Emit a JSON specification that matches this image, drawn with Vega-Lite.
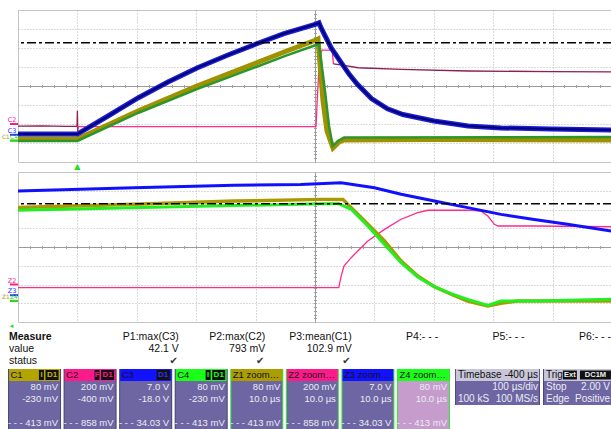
{
"$schema": "https://vega.github.io/schema/vega-lite/v6.json",
"background": "#ffffff",
"padding": {"left": 1, "top": 9, "right": 0, "bottom": 0},
"bounds": "flush",
"spacing": 10,
"resolve": {"scale": {"color": "independent", "fill": "independent"}},
"config": {
  "view": {"stroke": "#c4c4c4", "strokeWidth": 1},
  "text": {"font": "Liberation Sans"},
  "axis": {"labels": false, "ticks": false, "domain": false, "grid": false, "title": null}
},
"datasets": {
  "chtop": [{"ch":"C2","off":-2},{"ch":"C3","off":-2.57},{"ch":"C1","off":-2.875},{"ch":"C4","off":-2.875}],
  "chbot": [{"ch":"Z2","off":-2},{"ch":"Z3","off":-2.57},{"ch":"Z1","off":-2.875},{"ch":"Z4","off":-2.875}],
  "top": [
    {"trace":"C2","seg":"pre","t":-100,"v":-2.11},{"trace":"C2","seg":"pre","t":-60,"v":-2.1},{"trace":"C2","seg":"pre","t":-20,"v":-2.12},{"trace":"C2","seg":"pre","t":-0.6,"v":-2.11},{"trace":"C2","seg":"pre","t":0,"v":-1.3},{"trace":"C2","seg":"pre","t":0.6,"v":-2.4},{"trace":"C2","seg":"pre","t":1.2,"v":-2.11},
    {"trace":"C2","seg":"live","t":0,"v":-2.14},{"trace":"C2","seg":"live","t":200,"v":-2.14},{"trace":"C2","seg":"live","t":401.7,"v":-2.14},{"trace":"C2","seg":"live","t":403.4,"v":-1.0},{"trace":"C2","seg":"live","t":406,"v":0.6},{"trace":"C2","seg":"live","t":410.1,"v":1.74},{"trace":"C2","seg":"live","t":412,"v":1.89},{"trace":"C2","seg":"live","t":428.6,"v":1.89},{"trace":"C2","seg":"live","t":429.5,"v":1.7},{"trace":"C2","seg":"live","t":431,"v":1.16},
    {"trace":"C2","seg":"post","t":431,"v":1.16},{"trace":"C2","seg":"post","t":443.8,"v":1.11},{"trace":"C2","seg":"post","t":472.4,"v":0.96},{"trace":"C2","seg":"post","t":544.8,"v":0.88},{"trace":"C2","seg":"post","t":657.6,"v":0.79},{"trace":"C2","seg":"post","t":797,"v":0.76},{"trace":"C2","seg":"post","t":900,"v":0.74},
    {"trace":"C1","t":-100,"v":-2.79},{"trace":"C1","t":0,"v":-2.79},{"trace":"C1","t":102,"v":-1.32},{"trace":"C1","t":201.3,"v":0},{"trace":"C1","t":300.7,"v":1.21},{"trace":"C1","t":351.2,"v":1.83},{"trace":"C1","t":401.7,"v":2.42},{"trace":"C1","t":405,"v":2.47},{"trace":"C1","t":413.5,"v":-0.79},{"trace":"C1","t":420.2,"v":-2.37},{"trace":"C1","t":430.3,"v":-3.26},{"trace":"C1","t":440.4,"v":-2.95},{"trace":"C1","t":448.8,"v":-2.84},{"trace":"C1","t":600,"v":-2.82},{"trace":"C1","t":900,"v":-2.84},
    {"trace":"C4","t":-100,"v":-2.89},{"trace":"C4","t":0,"v":-2.89},{"trace":"C4","t":102,"v":-1.42},{"trace":"C4","t":201.3,"v":-0.16},{"trace":"C4","t":300.7,"v":1.0},{"trace":"C4","t":351.2,"v":1.6},{"trace":"C4","t":401.7,"v":2.16},{"trace":"C4","t":406.7,"v":2.21},{"trace":"C4","t":416.8,"v":-0.26},{"trace":"C4","t":423.6,"v":-2.1},{"trace":"C4","t":429.8,"v":-3.16},{"trace":"C4","t":438.7,"v":-2.89},{"trace":"C4","t":448.8,"v":-2.71},{"trace":"C4","t":900,"v":-2.68},
    {"trace":"C3","t":-100,"v":-2.53},{"trace":"C3","t":0,"v":-2.53},{"trace":"C3","t":51.5,"v":-1.58},{"trace":"C3","t":102,"v":-0.63},{"trace":"C3","t":152.5,"v":0.21},{"trace":"C3","t":201.3,"v":0.95},{"trace":"C3","t":253.5,"v":1.63},{"trace":"C3","t":300.7,"v":2.21},{"trace":"C3","t":347.8,"v":2.76},{"trace":"C3","t":401.7,"v":3.26},{"trace":"C3","t":406.7,"v":3.33},{"trace":"C3","t":410.1,"v":3.07},{"trace":"C3","t":415.7,"v":2.72},{"trace":"C3","t":427,"v":2.02},{"trace":"C3","t":443.8,"v":1.24},{"trace":"C3","t":458,"v":0.6},{"trace":"C3","t":471,"v":0.1},{"trace":"C3","t":495,"v":-0.66},{"trace":"C3","t":522,"v":-1.2},{"trace":"C3","t":548,"v":-1.5},{"trace":"C3","t":600.3,"v":-1.84},{"trace":"C3","t":657.6,"v":-2.11},{"trace":"C3","t":713.1,"v":-2.21},{"trace":"C3","t":797.3,"v":-2.26},{"trace":"C3","t":900,"v":-2.32}
  ],
  "zoom": [
    {"trace":"Z2","t":350,"v":-2.17},{"trace":"Z2","t":404,"v":-2.17},{"trace":"Z2","t":404.4,"v":-1.55},{"trace":"Z2","t":404.9,"v":-1.01},{"trace":"Z2","t":406.1,"v":-0.57},{"trace":"Z2","t":407.2,"v":-0.21},{"trace":"Z2","t":408.9,"v":0.32},{"trace":"Z2","t":411.7,"v":0.94},{"trace":"Z2","t":414.5,"v":1.48},{"trace":"Z2","t":417.3,"v":1.83},{"trace":"Z2","t":419,"v":1.96},{"trace":"Z2","t":425.8,"v":1.97},{"trace":"Z2","t":427.9,"v":1.92},{"trace":"Z2","t":429.1,"v":1.65},{"trace":"Z2","t":430.2,"v":1.21},{"trace":"Z2","t":430.8,"v":1.12},{"trace":"Z2","t":436.9,"v":1.12},{"trace":"Z2","t":450,"v":1.08},
    {"trace":"Z3","t":350,"v":2.99},{"trace":"Z3","t":369.5,"v":3.16},{"trace":"Z3","t":386.4,"v":3.29},{"trace":"Z3","t":397.6,"v":3.33},{"trace":"Z3","t":404.4,"v":3.42},{"trace":"Z3","t":410,"v":3.16},{"trace":"Z3","t":414.5,"v":2.81},{"trace":"Z3","t":420.1,"v":2.45},{"trace":"Z3","t":425.7,"v":2.1},{"trace":"Z3","t":431.3,"v":1.74},{"trace":"Z3","t":436.9,"v":1.47},{"trace":"Z3","t":442.5,"v":1.21},{"trace":"Z3","t":450,"v":0.85},
    {"trace":"Z1","t":350,"v":2.1},{"trace":"Z1","t":369.5,"v":2.28},{"trace":"Z1","t":386.4,"v":2.45},{"trace":"Z1","t":401,"v":2.54},{"trace":"Z1","t":404.7,"v":2.54},{"trace":"Z1","t":406.1,"v":2.1},{"trace":"Z1","t":408.9,"v":1.21},{"trace":"Z1","t":411.7,"v":0.32},{"trace":"Z1","t":414.5,"v":-0.75},{"trace":"Z1","t":417.3,"v":-1.55},{"trace":"Z1","t":420.1,"v":-2.12},{"trace":"Z1","t":422.9,"v":-2.52},{"trace":"Z1","t":425.7,"v":-2.88},{"trace":"Z1","t":429.1,"v":-3.15},{"trace":"Z1","t":431.3,"v":-3.0},{"trace":"Z1","t":434.1,"v":-2.88},{"trace":"Z1","t":450,"v":-2.88},
    {"trace":"Z4","t":350,"v":1.96},{"trace":"Z4","t":401,"v":2.31},{"trace":"Z4","t":404,"v":2.31},{"trace":"Z4","t":406.1,"v":2.01},{"trace":"Z4","t":408.9,"v":1.12},{"trace":"Z4","t":411.7,"v":0.14},{"trace":"Z4","t":414.5,"v":-0.84},{"trace":"Z4","t":417.3,"v":-1.6},{"trace":"Z4","t":420.1,"v":-2.12},{"trace":"Z4","t":422.9,"v":-2.49},{"trace":"Z4","t":425.7,"v":-2.79},{"trace":"Z4","t":429.1,"v":-3.11},{"trace":"Z4","t":431.3,"v":-2.88},{"trace":"Z4","t":436.9,"v":-2.88},{"trace":"Z4","t":450,"v":-2.79}
  ],
  "measure": [
    {"col":"lbl","row":"name","txt":"Measure"},{"col":"lbl","row":"value","txt":"value"},{"col":"lbl","row":"status","txt":"status"},
    {"col":"P1","row":"name","txt":"P1:max(C3)"},{"col":"P1","row":"value","txt":"42.1 V"},{"col":"P1","row":"status","txt":"✔"},
    {"col":"P2","row":"name","txt":"P2:max(C2)"},{"col":"P2","row":"value","txt":"793 mV"},{"col":"P2","row":"status","txt":"✔"},
    {"col":"P3","row":"name","txt":"P3:mean(C1)"},{"col":"P3","row":"value","txt":"102.9 mV"},{"col":"P3","row":"status","txt":"✔"},
    {"col":"P4","row":"name","txt":"P4:- - -"},{"col":"P5","row":"name","txt":"P5:- - -"},{"col":"P6","row":"name","txt":"P6:- - -"}
  ],
  "boxes": [
    {"box":"C1","line":"hdr","hdr":"C1","flag":"I"},{"box":"C2","line":"hdr","hdr":"C2","flag":"F"},{"box":"C3","line":"hdr","hdr":"C3","flag":""},{"box":"C4","line":"hdr","hdr":"C4","flag":"I"},
    {"box":"Z1","line":"hdr","hdr":"Z1  zoom(C1)","flag":""},{"box":"Z2","line":"hdr","hdr":"Z2  zoom(C2)","flag":""},{"box":"Z3","line":"hdr","hdr":"Z3  zoom(C3)","flag":""},{"box":"Z4","line":"hdr","hdr":"Z4  zoom(C4)","flag":""}
  ],
  "boxlines": [
    {"box":"C1","line":"l1","txt":"80 mV"},{"box":"C1","line":"l2","txt":"-230 mV"},{"box":"C1","line":"gap","txt":""},{"box":"C1","line":"foot","txt":"- - - 413 mV"},
    {"box":"C2","line":"l1","txt":"200 mV"},{"box":"C2","line":"l2","txt":"-400 mV"},{"box":"C2","line":"gap","txt":""},{"box":"C2","line":"foot","txt":"- - - 858 mV"},
    {"box":"C3","line":"l1","txt":"7.0 V"},{"box":"C3","line":"l2","txt":"-18.0 V"},{"box":"C3","line":"gap","txt":""},{"box":"C3","line":"foot","txt":"- - - 34.03 V"},
    {"box":"C4","line":"l1","txt":"80 mV"},{"box":"C4","line":"l2","txt":"-230 mV"},{"box":"C4","line":"gap","txt":""},{"box":"C4","line":"foot","txt":"- - - 413 mV"},
    {"box":"Z1","line":"l1","txt":"80 mV"},{"box":"Z1","line":"l2","txt":"10.0 µs"},{"box":"Z1","line":"gap","txt":""},{"box":"Z1","line":"foot","txt":"- - - 413 mV"},
    {"box":"Z2","line":"l1","txt":"200 mV"},{"box":"Z2","line":"l2","txt":"10.0 µs"},{"box":"Z2","line":"gap","txt":""},{"box":"Z2","line":"foot","txt":"- - - 858 mV"},
    {"box":"Z3","line":"l1","txt":"7.0 V"},{"box":"Z3","line":"l2","txt":"10.0 µs"},{"box":"Z3","line":"gap","txt":""},{"box":"Z3","line":"foot","txt":"- - - 34.03 V"},
    {"box":"Z4","line":"l1","txt":"80 mV"},{"box":"Z4","line":"l2","txt":"10.0 µs"},{"box":"Z4","line":"gap","txt":""},{"box":"Z4","line":"foot","txt":"- - - 413 mV"}
  ],
  "side": [
    {"box":"TB","line":"hdr","left":"Timebase","right":"-400 µs"},{"box":"TB","line":"l1","left":"","right":"100 µs/div"},{"box":"TB","line":"l2","left":"100 kS","right":"100 MS/s"},
    {"box":"TR","line":"hdr","left":"Trigger","right":""},{"box":"TR","line":"l1","left":"Stop","right":"2.00 V"},{"box":"TR","line":"l2","left":"Edge","right":"Positive"}
  ]
},
"vconcat": [
  {"width": 594, "height": 152,
   "data": {"name": "top"},
   "resolve": {"axis": {"x": "independent", "y": "independent"}},
   "layer": [
     {"transform": [{"filter": "datum.trace == 'C2' && datum.seg == 'pre'"}], "mark": {"type": "line", "strokeWidth": 1.3, "color": "#8e1f50", "clip": true},
      "encoding": {
        "x": {"field": "t", "type": "quantitative", "scale": {"domain": [-100, 900], "nice": false, "zero": false},
              "axis": {"grid": true, "values": [0,100,200,300,400,500,600,700,800],
                       "gridColor": {"condition": {"test": "datum.value === 400", "value": "#9a9a9a"}, "value": "#b4b4b4"},
                       "gridDash": {"condition": {"test": "datum.value === 400", "value": []}, "value": [1, 2]}}},
        "y": {"field": "v", "type": "quantitative", "scale": {"domain": [-4, 4], "nice": false, "zero": false},
              "axis": {"grid": true, "values": [-3,-2,-1,0,1,2,3],
                       "gridColor": {"condition": {"test": "datum.value === 0", "value": "#9a9a9a"}, "value": "#b4b4b4"},
                       "gridDash": {"condition": {"test": "datum.value === 0", "value": []}, "value": [1, 2]}}}}},
     {"data": {"values": [{}]}, "mark": {"type": "rule", "opacity": 0},
      "encoding": {"x": {"datum": 400, "type": "quantitative", "scale": {"domain": [-100, 900], "nice": false, "zero": false},
        "axis": {"orient": "bottom", "offset": -77.5, "ticks": true, "tickSize": 3, "tickColor": "#a0a0a0",
          "values": [-80,-60,-40,-20,0,20,40,60,80,100,120,140,160,180,200,220,240,260,280,300,320,340,360,380,400,420,440,460,480,500,520,540,560,580,600,620,640,660,680,700,720,740,760,780,800,820,840,860,880]}}}},
     {"data": {"values": [{}]}, "mark": {"type": "rule", "opacity": 0},
      "encoding": {"y": {"datum": 0, "type": "quantitative", "scale": {"domain": [-4, 4], "nice": false, "zero": false},
        "axis": {"orient": "left", "offset": -298.5, "ticks": true, "tickSize": 3, "tickColor": "#a0a0a0",
          "values": [-3.8,-3.6,-3.4,-3.2,-3,-2.8,-2.6,-2.4,-2.2,-2,-1.8,-1.6,-1.4,-1.2,-1,-0.8,-0.6,-0.4,-0.2,0,0.2,0.4,0.6,0.8,1,1.2,1.4,1.6,1.8,2,2.2,2.4,2.6,2.8,3,3.2,3.4,3.6,3.8]}}}},
     {"transform": [{"filter": "datum.trace == 'C2' && datum.seg == 'live'"}], "mark": {"type": "line", "strokeWidth": 1.3, "color": "#ff2a8a", "clip": true},
      "encoding": {"x": {"field": "t", "type": "quantitative", "scale": {"domain": [-100, 900], "nice": false, "zero": false}, "axis": null},
                   "y": {"field": "v", "type": "quantitative", "scale": {"domain": [-4, 4], "nice": false, "zero": false}, "axis": null}}},
     {"transform": [{"filter": "datum.trace == 'C2' && datum.seg == 'post'"}], "mark": {"type": "line", "strokeWidth": 1.3, "color": "#8e1f50", "clip": true},
      "encoding": {"x": {"field": "t", "type": "quantitative", "scale": {"domain": [-100, 900], "nice": false, "zero": false}, "axis": null},
                   "y": {"field": "v", "type": "quantitative", "scale": {"domain": [-4, 4], "nice": false, "zero": false}, "axis": null}}},
     {"transform": [{"filter": "datum.trace == 'C1'"}], "mark": {"type": "line", "strokeWidth": 5, "color": "#9f9200", "clip": true},
      "encoding": {"x": {"field": "t", "type": "quantitative", "scale": {"domain": [-100, 900], "nice": false, "zero": false}, "axis": null},
                   "y": {"field": "v", "type": "quantitative", "scale": {"domain": [-4, 4], "nice": false, "zero": false}, "axis": null}}},
     {"transform": [{"filter": "datum.trace == 'C4'"}], "mark": {"type": "line", "strokeWidth": 2.5, "color": "#2c962c", "clip": true},
      "encoding": {"x": {"field": "t", "type": "quantitative", "scale": {"domain": [-100, 900], "nice": false, "zero": false}, "axis": null},
                   "y": {"field": "v", "type": "quantitative", "scale": {"domain": [-4, 4], "nice": false, "zero": false}, "axis": null}}},
     {"transform": [{"filter": "datum.trace == 'C3'"}], "mark": {"type": "line", "strokeWidth": 5, "color": "#1c1cd0", "clip": true},
      "encoding": {"x": {"field": "t", "type": "quantitative", "scale": {"domain": [-100, 900], "nice": false, "zero": false}, "axis": null},
                   "y": {"field": "v", "type": "quantitative", "scale": {"domain": [-4, 4], "nice": false, "zero": false}, "axis": null}}},
     {"transform": [{"filter": "datum.trace == 'C3'"}], "mark": {"type": "line", "strokeWidth": 2, "color": "#00007c", "clip": true},
      "encoding": {"x": {"field": "t", "type": "quantitative", "scale": {"domain": [-100, 900], "nice": false, "zero": false}, "axis": null},
                   "y": {"field": "v", "type": "quantitative", "scale": {"domain": [-4, 4], "nice": false, "zero": false}, "axis": null}}},
     {"data": {"values": [{}]}, "mark": {"type": "rule", "color": "#000000", "strokeWidth": 1.6, "strokeDash": [9, 3, 3, 3]},
      "encoding": {"y": {"datum": 2.28, "type": "quantitative", "scale": {"domain": [-4, 4], "nice": false, "zero": false}, "axis": null}}},
     {"data": {"name": "chtop"}, "mark": {"type": "rule", "strokeWidth": 2},
      "encoding": {"x": {"datum": -113.5, "type": "quantitative", "scale": {"domain": [-100, 900], "nice": false, "zero": false}, "axis": null},
                   "x2": {"datum": -100},
                   "y": {"field": "off", "type": "quantitative", "scale": {"domain": [-4, 4], "nice": false, "zero": false}, "axis": null},
                   "color": {"field": "ch", "type": "nominal", "scale": {"domain": ["C1","C2","C3","C4"], "range": ["#a89a00","#ff1a8c","#2a2aff","#22dd22"]}, "legend": null}}},
     {"data": {"name": "chtop"}, "transform": [{"filter": "datum.ch == 'C2' || datum.ch == 'C3'"}], "mark": {"type": "text", "fontSize": 6.5, "baseline": "bottom", "dy": -1, "font": "DejaVu Sans"},
      "encoding": {"x": {"datum": -110, "type": "quantitative", "scale": {"domain": [-100, 900], "nice": false, "zero": false}, "axis": null},
                   "y": {"field": "off", "type": "quantitative", "scale": {"domain": [-4, 4], "nice": false, "zero": false}, "axis": null},
                   "text": {"field": "ch"},
                   "color": {"field": "ch", "type": "nominal", "scale": {"domain": ["C1","C2","C3","C4"], "range": ["#a89a00","#ff1a8c","#2a2aff","#22dd22"]}, "legend": null}}},
     {"data": {"name": "chtop"}, "transform": [{"filter": "datum.ch == 'C1'"}], "mark": {"type": "text", "fontSize": 5.8, "align": "left", "baseline": "bottom", "dy": -1, "font": "DejaVu Sans"},
      "encoding": {"x": {"datum": -126.9, "type": "quantitative", "scale": {"domain": [-100, 900], "nice": false, "zero": false}, "axis": null},
                   "y": {"field": "off", "type": "quantitative", "scale": {"domain": [-4, 4], "nice": false, "zero": false}, "axis": null},
                   "text": {"field": "ch"},
                   "color": {"field": "ch", "type": "nominal", "scale": {"domain": ["C1","C2","C3","C4"], "range": ["#a89a00","#ff1a8c","#2a2aff","#22dd22"]}, "legend": null}}},
     {"data": {"name": "chtop"}, "transform": [{"filter": "datum.ch == 'C4'"}], "mark": {"type": "text", "fontSize": 5.8, "align": "left", "baseline": "bottom", "dy": -1, "font": "DejaVu Sans"},
      "encoding": {"x": {"datum": -113.3, "type": "quantitative", "scale": {"domain": [-100, 900], "nice": false, "zero": false}, "axis": null},
                   "y": {"field": "off", "type": "quantitative", "scale": {"domain": [-4, 4], "nice": false, "zero": false}, "axis": null},
                   "text": {"field": "ch"},
                   "color": {"field": "ch", "type": "nominal", "scale": {"domain": ["C1","C2","C3","C4"], "range": ["#a89a00","#ff1a8c","#2a2aff","#22dd22"]}, "legend": null}}},
     {"data": {"values": [{}]}, "mark": {"type": "text", "text": "▲", "fontSize": 8, "color": "#22dd22", "baseline": "top", "dy": 1, "font": "DejaVu Sans"},
      "encoding": {"x": {"datum": 0, "type": "quantitative", "scale": {"domain": [-100, 900], "nice": false, "zero": false}, "axis": null},
                   "y": {"value": "height"}}}
   ]},
  {"width": 594, "height": 150,
   "data": {"name": "zoom"},
   "resolve": {"axis": {"x": "independent", "y": "independent"}},
   "layer": [
     {"transform": [{"filter": "datum.trace == 'Z2'"}], "mark": {"type": "line", "strokeWidth": 1.3, "color": "#ff2a8a", "clip": true},
      "encoding": {
        "x": {"field": "t", "type": "quantitative", "scale": {"domain": [350, 450], "nice": false, "zero": false},
              "axis": {"grid": true, "values": [360,370,380,390,400,410,420,430,440],
                       "gridColor": {"condition": {"test": "datum.value === 400", "value": "#9a9a9a"}, "value": "#b4b4b4"},
                       "gridDash": {"condition": {"test": "datum.value === 400", "value": []}, "value": [1, 2]}}},
        "y": {"field": "v", "type": "quantitative", "scale": {"domain": [-4, 4], "nice": false, "zero": false},
              "axis": {"grid": true, "values": [-3,-2,-1,0,1,2,3],
                       "gridColor": {"condition": {"test": "datum.value === 0", "value": "#9a9a9a"}, "value": "#b4b4b4"},
                       "gridDash": {"condition": {"test": "datum.value === 0", "value": []}, "value": [1, 2]}}}}},
     {"data": {"values": [{}]}, "mark": {"type": "rule", "opacity": 0},
      "encoding": {"x": {"datum": 400, "type": "quantitative", "scale": {"domain": [350, 450], "nice": false, "zero": false},
        "axis": {"orient": "bottom", "offset": -76.5, "ticks": true, "tickSize": 3, "tickColor": "#a0a0a0",
          "values": [352,354,356,358,360,362,364,366,368,370,372,374,376,378,380,382,384,386,388,390,392,394,396,398,400,402,404,406,408,410,412,414,416,418,420,422,424,426,428,430,432,434,436,438,440,442,444,446,448]}}}},
     {"data": {"values": [{}]}, "mark": {"type": "rule", "opacity": 0},
      "encoding": {"y": {"datum": 0, "type": "quantitative", "scale": {"domain": [-4, 4], "nice": false, "zero": false},
        "axis": {"orient": "left", "offset": -298.5, "ticks": true, "tickSize": 3, "tickColor": "#a0a0a0",
          "values": [-3.8,-3.6,-3.4,-3.2,-3,-2.8,-2.6,-2.4,-2.2,-2,-1.8,-1.6,-1.4,-1.2,-1,-0.8,-0.6,-0.4,-0.2,0,0.2,0.4,0.6,0.8,1,1.2,1.4,1.6,1.8,2,2.2,2.4,2.6,2.8,3,3.2,3.4,3.6,3.8]}}}},
     {"transform": [{"filter": "datum.trace == 'Z1'"}], "mark": {"type": "line", "strokeWidth": 3.5, "color": "#a89a00", "clip": true},
      "encoding": {"x": {"field": "t", "type": "quantitative", "scale": {"domain": [350, 450], "nice": false, "zero": false}, "axis": null},
                   "y": {"field": "v", "type": "quantitative", "scale": {"domain": [-4, 4], "nice": false, "zero": false}, "axis": null}}},
     {"transform": [{"filter": "datum.trace == 'Z4'"}], "mark": {"type": "line", "strokeWidth": 3, "color": "#22ee22", "clip": true},
      "encoding": {"x": {"field": "t", "type": "quantitative", "scale": {"domain": [350, 450], "nice": false, "zero": false}, "axis": null},
                   "y": {"field": "v", "type": "quantitative", "scale": {"domain": [-4, 4], "nice": false, "zero": false}, "axis": null}}},
     {"transform": [{"filter": "datum.trace == 'Z3'"}], "mark": {"type": "line", "strokeWidth": 3, "color": "#1010ff", "clip": true},
      "encoding": {"x": {"field": "t", "type": "quantitative", "scale": {"domain": [350, 450], "nice": false, "zero": false}, "axis": null},
                   "y": {"field": "v", "type": "quantitative", "scale": {"domain": [-4, 4], "nice": false, "zero": false}, "axis": null}}},
     {"data": {"values": [{}]}, "mark": {"type": "rule", "color": "#000000", "strokeWidth": 1.6, "strokeDash": [9, 3, 3, 3]},
      "encoding": {"y": {"datum": 2.31, "type": "quantitative", "scale": {"domain": [-4, 4], "nice": false, "zero": false}, "axis": null}}},
     {"data": {"name": "chbot"}, "mark": {"type": "rule", "strokeWidth": 2},
      "encoding": {"x": {"datum": 348.65, "type": "quantitative", "scale": {"domain": [350, 450], "nice": false, "zero": false}, "axis": null},
                   "x2": {"datum": 350},
                   "y": {"field": "off", "type": "quantitative", "scale": {"domain": [-4, 4], "nice": false, "zero": false}, "axis": null},
                   "color": {"field": "ch", "type": "nominal", "scale": {"domain": ["Z1","Z2","Z3","Z4"], "range": ["#a89a00","#ff1a8c","#2a2aff","#22dd22"]}, "legend": null}}},
     {"data": {"name": "chbot"}, "transform": [{"filter": "datum.ch == 'Z2' || datum.ch == 'Z3'"}], "mark": {"type": "text", "fontSize": 6.5, "baseline": "bottom", "dy": -1, "font": "DejaVu Sans"},
      "encoding": {"x": {"datum": 349.0, "type": "quantitative", "scale": {"domain": [350, 450], "nice": false, "zero": false}, "axis": null},
                   "y": {"field": "off", "type": "quantitative", "scale": {"domain": [-4, 4], "nice": false, "zero": false}, "axis": null},
                   "text": {"field": "ch"},
                   "color": {"field": "ch", "type": "nominal", "scale": {"domain": ["Z1","Z2","Z3","Z4"], "range": ["#a89a00","#ff1a8c","#2a2aff","#22dd22"]}, "legend": null}}},
     {"data": {"name": "chbot"}, "transform": [{"filter": "datum.ch == 'Z1'"}], "mark": {"type": "text", "fontSize": 5.8, "align": "left", "baseline": "bottom", "dy": -1, "font": "DejaVu Sans"},
      "encoding": {"x": {"datum": 347.31, "type": "quantitative", "scale": {"domain": [350, 450], "nice": false, "zero": false}, "axis": null},
                   "y": {"field": "off", "type": "quantitative", "scale": {"domain": [-4, 4], "nice": false, "zero": false}, "axis": null},
                   "text": {"field": "ch"},
                   "color": {"field": "ch", "type": "nominal", "scale": {"domain": ["Z1","Z2","Z3","Z4"], "range": ["#a89a00","#ff1a8c","#2a2aff","#22dd22"]}, "legend": null}}},
     {"data": {"name": "chbot"}, "transform": [{"filter": "datum.ch == 'Z4'"}], "mark": {"type": "text", "fontSize": 5.8, "align": "left", "baseline": "bottom", "dy": -1, "font": "DejaVu Sans"},
      "encoding": {"x": {"datum": 348.67, "type": "quantitative", "scale": {"domain": [350, 450], "nice": false, "zero": false}, "axis": null},
                   "y": {"field": "off", "type": "quantitative", "scale": {"domain": [-4, 4], "nice": false, "zero": false}, "axis": null},
                   "text": {"field": "ch"},
                   "color": {"field": "ch", "type": "nominal", "scale": {"domain": ["Z1","Z2","Z3","Z4"], "range": ["#a89a00","#ff1a8c","#2a2aff","#22dd22"]}, "legend": null}}},
     {"data": {"values": [{}]}, "mark": {"type": "text", "text": "◂", "fontSize": 7, "color": "#22dd22", "baseline": "top", "dy": 0, "font": "DejaVu Sans"},
      "encoding": {"x": {"datum": 348.9, "type": "quantitative", "scale": {"domain": [350, 450], "nice": false, "zero": false}, "axis": null},
                   "y": {"value": "height"}}}
   ]},
  {"width": 594, "height": 27, "view": {"stroke": null},
   "data": {"name": "measure"},
   "layer": [
      {"transform": [{"filter": "datum.col == 'lbl' && datum.row == 'name'"}],
       "mark": {"type": "text", "align": "left", "dx": 2, "fontSize": 10.5, "fontWeight": "bold", "color": "#111111"},
       "encoding": {
         "x": {"field": "col", "type": "nominal", "bandPosition": 0, "scale": {"type": "band", "domain": ["lbl","P1","P2","P3","P4","P5","P6"], "range": [-11, 594], "paddingInner": 0, "paddingOuter": 0}, "axis": null},
         "y": {"field": "row", "type": "nominal", "scale": {"type": "point", "domain": ["name","value","status"], "range": [5, 29], "padding": 0}, "axis": null},
         "text": {"field": "txt"}}},
      {"transform": [{"filter": "datum.col == 'lbl' && datum.row != 'name'"}],
       "mark": {"type": "text", "align": "left", "dx": 2, "fontSize": 10.5, "color": "#111111"},
       "encoding": {
         "x": {"field": "col", "type": "nominal", "bandPosition": 0, "scale": {"type": "band", "domain": ["lbl","P1","P2","P3","P4","P5","P6"], "range": [-11, 594], "paddingInner": 0, "paddingOuter": 0}, "axis": null},
         "y": {"field": "row", "type": "nominal", "scale": {"type": "point", "domain": ["name","value","status"], "range": [5, 29], "padding": 0}, "axis": null},
         "text": {"field": "txt"}}},
      {"transform": [{"filter": "datum.col != 'lbl' && datum.row != 'status'"}],
       "mark": {"type": "text", "align": "right", "dx": -1, "fontSize": 10.5, "color": "#111111"},
       "encoding": {
         "x": {"field": "col", "type": "nominal", "bandPosition": 1, "scale": {"type": "band", "domain": ["lbl","P1","P2","P3","P4","P5","P6"], "range": [-11, 594], "paddingInner": 0, "paddingOuter": 0}, "axis": null},
         "y": {"field": "row", "type": "nominal", "scale": {"type": "point", "domain": ["name","value","status"], "range": [5, 29], "padding": 0}, "axis": null},
         "text": {"field": "txt"}}},
      {"transform": [{"filter": "datum.col != 'lbl' && datum.row == 'status'"}],
       "mark": {"type": "text", "align": "right", "dx": -2, "fontSize": 10, "color": "#333333", "font": "DejaVu Sans"},
       "encoding": {
         "x": {"field": "col", "type": "nominal", "bandPosition": 1, "scale": {"type": "band", "domain": ["lbl","P1","P2","P3","P4","P5","P6"], "range": [-11, 594], "paddingInner": 0, "paddingOuter": 0}, "axis": null},
         "y": {"field": "row", "type": "nominal", "scale": {"type": "point", "domain": ["name","value","status"], "range": [5, 29], "padding": 0}, "axis": null},
         "text": {"field": "txt"}}}
   ]},
  {"width": 594, "height": 61, "view": {"stroke": null},
   "resolve": {"scale": {"x": "independent"}},
   "layer": [
     {"data": {"name": "boxes"}, "mark": {"type": "rect"},
      "encoding": {
        "x": {"field": "box", "type": "nominal", "scale": {"type": "band", "domain": ["C1","C2","C3","C4","Z1","Z2","Z3","Z4"], "range": [-10, 432], "paddingInner": 0.045, "paddingOuter": 0}, "axis": null},
        "y": {"field": "line", "type": "nominal", "scale": {"type": "band", "domain": ["hdr","l1","l2","gap","foot"], "range": [0, 60], "paddingInner": 0, "paddingOuter": 0}, "axis": null},
        "fill": {"condition": {"test": "indexof(datum.box, 'Z') == 0", "value": "#3de03d"}, "value": "#4b4a72"}}},
     {"data": {"name": "boxlines"}, "mark": {"type": "rect"},
      "encoding": {
        "x": {"field": "box", "type": "nominal", "scale": {"type": "band", "domain": ["C1","C2","C3","C4","Z1","Z2","Z3","Z4"], "range": [-10, 432], "paddingInner": 0.045, "paddingOuter": 0}, "axis": null},
        "y": {"field": "line", "type": "nominal", "scale": {"type": "band", "domain": ["hdr","l1","l2","gap","foot"], "range": [0, 60], "paddingInner": 0, "paddingOuter": 0}, "axis": null},
        "fill": {"condition": {"test": "indexof(datum.box, 'Z') == 0", "value": "#3de03d"}, "value": "#4b4a72"}}},
     {"data": {"name": "boxes"}, "mark": {"type": "rect", "width": {"band": 0.96}},
      "encoding": {
        "x": {"field": "box", "type": "nominal", "scale": {"type": "band", "domain": ["C1","C2","C3","C4","Z1","Z2","Z3","Z4"], "range": [-10, 432], "paddingInner": 0.045, "paddingOuter": 0}, "axis": null},
        "y": {"field": "line", "type": "nominal", "scale": {"type": "band", "domain": ["hdr","l1","l2","gap","foot"], "range": [0, 60], "paddingInner": 0, "paddingOuter": 0}, "axis": null},
        "fill": {"field": "box", "type": "nominal", "scale": {"domain": ["C1","C2","C3","C4","Z1","Z2","Z3","Z4"], "range": ["#b3a400","#ff1a8c","#1212ff","#1aff1a","#ab9c00","#ff1a8c","#1212ff","#1aff1a"]}, "legend": null}}},
     {"data": {"name": "boxlines"}, "mark": {"type": "rect", "width": {"band": 0.96}},
      "encoding": {
        "x": {"field": "box", "type": "nominal", "scale": {"type": "band", "domain": ["C1","C2","C3","C4","Z1","Z2","Z3","Z4"], "range": [-10, 432], "paddingInner": 0.045, "paddingOuter": 0}, "axis": null},
        "y": {"field": "line", "type": "nominal", "scale": {"type": "band", "domain": ["hdr","l1","l2","gap","foot"], "range": [0, 60], "paddingInner": 0, "paddingOuter": 0}, "axis": null},
        "fill": {"condition": {"test": "datum.box == 'Z4'", "value": "#c59ccb"}, "value": "#6d66a2"}}},
     {"data": {"name": "boxes"}, "mark": {"type": "text", "align": "left", "dx": 2.5, "fontSize": 9.5, "color": "#111111", "limit": 50},
      "encoding": {
        "x": {"field": "box", "type": "nominal", "bandPosition": 0, "scale": {"type": "band", "domain": ["C1","C2","C3","C4","Z1","Z2","Z3","Z4"], "range": [-10, 432], "paddingInner": 0.045, "paddingOuter": 0}, "axis": null},
        "y": {"field": "line", "type": "nominal", "scale": {"type": "band", "domain": ["hdr","l1","l2","gap","foot"], "range": [0, 60], "paddingInner": 0, "paddingOuter": 0}, "axis": null},
        "text": {"field": "hdr"}}},
     {"data": {"name": "boxes"}, "transform": [{"filter": "indexof(datum.box, 'C') == 0"}], "mark": {"type": "point", "shape": "M-1,-0.77H1V0.77H-1Z", "size": 169, "filled": true, "opacity": 1, "strokeWidth": 0, "color": "#111111"},
      "encoding": {
        "x": {"field": "box", "type": "nominal", "bandPosition": 0.83, "scale": {"type": "band", "domain": ["C1","C2","C3","C4","Z1","Z2","Z3","Z4"], "range": [-10, 432], "paddingInner": 0.045, "paddingOuter": 0}, "axis": null},
        "y": {"field": "line", "type": "nominal", "scale": {"type": "band", "domain": ["hdr","l1","l2","gap","foot"], "range": [0, 60], "paddingInner": 0, "paddingOuter": 0}, "axis": null}}},
     {"data": {"name": "boxes"}, "transform": [{"filter": "datum.flag != ''"}], "mark": {"type": "point", "shape": "M-0.5,-1H0.5V1H-0.5Z", "size": 100, "filled": true, "opacity": 1, "strokeWidth": 0, "color": "#111111"},
      "encoding": {
        "x": {"field": "box", "type": "nominal", "bandPosition": 0.63, "scale": {"type": "band", "domain": ["C1","C2","C3","C4","Z1","Z2","Z3","Z4"], "range": [-10, 432], "paddingInner": 0.045, "paddingOuter": 0}, "axis": null},
        "y": {"field": "line", "type": "nominal", "scale": {"type": "band", "domain": ["hdr","l1","l2","gap","foot"], "range": [0, 60], "paddingInner": 0, "paddingOuter": 0}, "axis": null}}},
     {"data": {"name": "boxes"}, "transform": [{"filter": "indexof(datum.box, 'C') == 0"}], "mark": {"type": "text", "text": "D1", "fontSize": 8, "fontWeight": "bold", "align": "center"},
      "encoding": {
        "x": {"field": "box", "type": "nominal", "bandPosition": 0.83, "scale": {"type": "band", "domain": ["C1","C2","C3","C4","Z1","Z2","Z3","Z4"], "range": [-10, 432], "paddingInner": 0.045, "paddingOuter": 0}, "axis": null},
        "y": {"field": "line", "type": "nominal", "scale": {"type": "band", "domain": ["hdr","l1","l2","gap","foot"], "range": [0, 60], "paddingInner": 0, "paddingOuter": 0}, "axis": null},
        "color": {"field": "box", "type": "nominal", "scale": {"domain": ["C1","C2","C3","C4"], "range": ["#c8b800","#ff1a8c","#3030ff","#1aff1a"]}, "legend": null}}},
     {"data": {"name": "boxes"}, "transform": [{"filter": "datum.flag != ''"}], "mark": {"type": "text", "fontSize": 7.5, "fontWeight": "bold", "align": "center"},
      "encoding": {
        "x": {"field": "box", "type": "nominal", "bandPosition": 0.63, "scale": {"type": "band", "domain": ["C1","C2","C3","C4","Z1","Z2","Z3","Z4"], "range": [-10, 432], "paddingInner": 0.045, "paddingOuter": 0}, "axis": null},
        "y": {"field": "line", "type": "nominal", "scale": {"type": "band", "domain": ["hdr","l1","l2","gap","foot"], "range": [0, 60], "paddingInner": 0, "paddingOuter": 0}, "axis": null},
        "text": {"field": "flag"},
        "color": {"field": "box", "type": "nominal", "scale": {"domain": ["C1","C2","C3","C4"], "range": ["#c8b800","#ff1a8c","#3030ff","#1aff1a"]}, "legend": null}}},
     {"data": {"name": "boxlines"}, "mark": {"type": "text", "align": "right", "dx": -3, "fontSize": 9.5, "color": "#ececf6"},
      "encoding": {
        "x": {"field": "box", "type": "nominal", "bandPosition": 1, "scale": {"type": "band", "domain": ["C1","C2","C3","C4","Z1","Z2","Z3","Z4"], "range": [-10, 432], "paddingInner": 0.045, "paddingOuter": 0}, "axis": null},
        "y": {"field": "line", "type": "nominal", "scale": {"type": "band", "domain": ["hdr","l1","l2","gap","foot"], "range": [0, 60], "paddingInner": 0, "paddingOuter": 0}, "axis": null},
        "text": {"field": "txt"}}},
     {"data": {"name": "side"}, "transform": [{"filter": "datum.box == 'TB'"}], "mark": {"type": "rect", "color": "#4b4a72"},
      "encoding": {
        "x": {"field": "box", "type": "nominal", "scale": {"type": "band", "domain": ["TB"], "range": [437, 522], "paddingInner": 0, "paddingOuter": 0}, "axis": null},
        "y": {"field": "line", "type": "nominal", "scale": {"type": "band", "domain": ["hdr","l1","l2","gap","foot"], "range": [0, 60], "paddingInner": 0, "paddingOuter": 0}, "axis": null}}},
     {"data": {"name": "side"}, "transform": [{"filter": "datum.box == 'TB'"}], "mark": {"type": "rect", "width": {"band": 0.98}},
      "encoding": {
        "x": {"field": "box", "type": "nominal", "scale": {"type": "band", "domain": ["TB"], "range": [437, 522], "paddingInner": 0, "paddingOuter": 0}, "axis": null},
        "y": {"field": "line", "type": "nominal", "scale": {"type": "band", "domain": ["hdr","l1","l2","gap","foot"], "range": [0, 60], "paddingInner": 0, "paddingOuter": 0}, "axis": null},
        "fill": {"condition": {"test": "datum.line == 'hdr'", "value": "#c9c6da"}, "value": "#6d66a2"}}},
     {"data": {"name": "side"}, "transform": [{"filter": "datum.box == 'TB'"}], "mark": {"type": "text", "align": "left", "dx": 3, "fontSize": 10},
      "encoding": {
        "x": {"field": "box", "type": "nominal", "bandPosition": 0, "scale": {"type": "band", "domain": ["TB"], "range": [437, 522], "paddingInner": 0, "paddingOuter": 0}, "axis": null},
        "y": {"field": "line", "type": "nominal", "scale": {"type": "band", "domain": ["hdr","l1","l2","gap","foot"], "range": [0, 60], "paddingInner": 0, "paddingOuter": 0}, "axis": null},
        "text": {"field": "left"},
        "color": {"condition": {"test": "datum.line == 'hdr'", "value": "#111111"}, "value": "#ececf6"}}},
     {"data": {"name": "side"}, "transform": [{"filter": "datum.box == 'TB'"}], "mark": {"type": "text", "align": "right", "dx": -2, "fontSize": 10},
      "encoding": {
        "x": {"field": "box", "type": "nominal", "bandPosition": 1, "scale": {"type": "band", "domain": ["TB"], "range": [437, 522], "paddingInner": 0, "paddingOuter": 0}, "axis": null},
        "y": {"field": "line", "type": "nominal", "scale": {"type": "band", "domain": ["hdr","l1","l2","gap","foot"], "range": [0, 60], "paddingInner": 0, "paddingOuter": 0}, "axis": null},
        "text": {"field": "right"},
        "color": {"condition": {"test": "datum.line == 'hdr'", "value": "#111111"}, "value": "#ececf6"}}},
     {"data": {"name": "side"}, "transform": [{"filter": "datum.box == 'TR'"}], "mark": {"type": "rect", "color": "#4b4a72"},
      "encoding": {
        "x": {"field": "box", "type": "nominal", "scale": {"type": "band", "domain": ["TR"], "range": [525, 594], "paddingInner": 0, "paddingOuter": 0}, "axis": null},
        "y": {"field": "line", "type": "nominal", "scale": {"type": "band", "domain": ["hdr","l1","l2","gap","foot"], "range": [0, 60], "paddingInner": 0, "paddingOuter": 0}, "axis": null}}},
     {"data": {"name": "side"}, "transform": [{"filter": "datum.box == 'TR'"}], "mark": {"type": "rect", "width": {"band": 0.97}},
      "encoding": {
        "x": {"field": "box", "type": "nominal", "scale": {"type": "band", "domain": ["TR"], "range": [525, 594], "paddingInner": 0, "paddingOuter": 0}, "axis": null},
        "y": {"field": "line", "type": "nominal", "scale": {"type": "band", "domain": ["hdr","l1","l2","gap","foot"], "range": [0, 60], "paddingInner": 0, "paddingOuter": 0}, "axis": null},
        "fill": {"condition": {"test": "datum.line == 'hdr'", "value": "#c9c6da"}, "value": "#6d66a2"}}},
     {"data": {"name": "side"}, "transform": [{"filter": "datum.box == 'TR' && datum.line == 'hdr'"}], "mark": {"type": "text", "align": "left", "dx": 3, "fontSize": 10, "color": "#111111", "limit": 18, "ellipsis": "\u200a"},
      "encoding": {
        "x": {"field": "box", "type": "nominal", "bandPosition": 0, "scale": {"type": "band", "domain": ["TR"], "range": [525, 594], "paddingInner": 0, "paddingOuter": 0}, "axis": null},
        "y": {"field": "line", "type": "nominal", "scale": {"type": "band", "domain": ["hdr","l1","l2","gap","foot"], "range": [0, 60], "paddingInner": 0, "paddingOuter": 0}, "axis": null},
        "text": {"field": "left"}}},
     {"data": {"name": "side"}, "transform": [{"filter": "datum.box == 'TR' && datum.line != 'hdr'"}], "mark": {"type": "text", "align": "left", "dx": 3, "fontSize": 10, "color": "#ececf6"},
      "encoding": {
        "x": {"field": "box", "type": "nominal", "bandPosition": 0, "scale": {"type": "band", "domain": ["TR"], "range": [525, 594], "paddingInner": 0, "paddingOuter": 0}, "axis": null},
        "y": {"field": "line", "type": "nominal", "scale": {"type": "band", "domain": ["hdr","l1","l2","gap","foot"], "range": [0, 60], "paddingInner": 0, "paddingOuter": 0}, "axis": null},
        "text": {"field": "left"}}},
     {"data": {"name": "side"}, "transform": [{"filter": "datum.box == 'TR'"}], "mark": {"type": "text", "align": "right", "dx": -2, "fontSize": 10},
      "encoding": {
        "x": {"field": "box", "type": "nominal", "bandPosition": 1, "scale": {"type": "band", "domain": ["TR"], "range": [525, 594], "paddingInner": 0, "paddingOuter": 0}, "axis": null},
        "y": {"field": "line", "type": "nominal", "scale": {"type": "band", "domain": ["hdr","l1","l2","gap","foot"], "range": [0, 60], "paddingInner": 0, "paddingOuter": 0}, "axis": null},
        "text": {"field": "right"},
        "color": {"condition": {"test": "datum.line == 'hdr'", "value": "#111111"}, "value": "#ececf6"}}},
     {"data": {"name": "side"}, "transform": [{"filter": "datum.box == 'TR' && datum.line == 'hdr'"}], "mark": {"type": "point", "shape": "M-1,-0.64H1V0.64H-1Z", "size": 196, "filled": true, "opacity": 1, "strokeWidth": 0, "color": "#111111"},
      "encoding": {
        "x": {"field": "box", "type": "nominal", "bandPosition": 0.39, "scale": {"type": "band", "domain": ["TR"], "range": [525, 594], "paddingInner": 0, "paddingOuter": 0}, "axis": null},
        "y": {"field": "line", "type": "nominal", "scale": {"type": "band", "domain": ["hdr","l1","l2","gap","foot"], "range": [0, 60], "paddingInner": 0, "paddingOuter": 0}, "axis": null}}},
     {"data": {"name": "side"}, "transform": [{"filter": "datum.box == 'TR' && datum.line == 'hdr'"}], "mark": {"type": "point", "shape": "M-1,-0.29H1V0.29H-1Z", "size": 961, "filled": true, "opacity": 1, "strokeWidth": 0, "color": "#111111"},
      "encoding": {
        "x": {"field": "box", "type": "nominal", "bandPosition": 0.76, "scale": {"type": "band", "domain": ["TR"], "range": [525, 594], "paddingInner": 0, "paddingOuter": 0}, "axis": null},
        "y": {"field": "line", "type": "nominal", "scale": {"type": "band", "domain": ["hdr","l1","l2","gap","foot"], "range": [0, 60], "paddingInner": 0, "paddingOuter": 0}, "axis": null}}},
     {"data": {"name": "side"}, "transform": [{"filter": "datum.box == 'TR' && datum.line == 'hdr'"}], "mark": {"type": "text", "text": "Ext", "fontSize": 7.5, "fontWeight": "bold", "color": "#f0f0f0", "align": "center"},
      "encoding": {
        "x": {"field": "box", "type": "nominal", "bandPosition": 0.39, "scale": {"type": "band", "domain": ["TR"], "range": [525, 594], "paddingInner": 0, "paddingOuter": 0}, "axis": null},
        "y": {"field": "line", "type": "nominal", "scale": {"type": "band", "domain": ["hdr","l1","l2","gap","foot"], "range": [0, 60], "paddingInner": 0, "paddingOuter": 0}, "axis": null}}},
     {"data": {"name": "side"}, "transform": [{"filter": "datum.box == 'TR' && datum.line == 'hdr'"}], "mark": {"type": "text", "text": "DC1M", "fontSize": 7.5, "fontWeight": "bold", "color": "#f0f0f0", "align": "center"},
      "encoding": {
        "x": {"field": "box", "type": "nominal", "bandPosition": 0.76, "scale": {"type": "band", "domain": ["TR"], "range": [525, 594], "paddingInner": 0, "paddingOuter": 0}, "axis": null},
        "y": {"field": "line", "type": "nominal", "scale": {"type": "band", "domain": ["hdr","l1","l2","gap","foot"], "range": [0, 60], "paddingInner": 0, "paddingOuter": 0}, "axis": null}}}
   ]}
]
}
